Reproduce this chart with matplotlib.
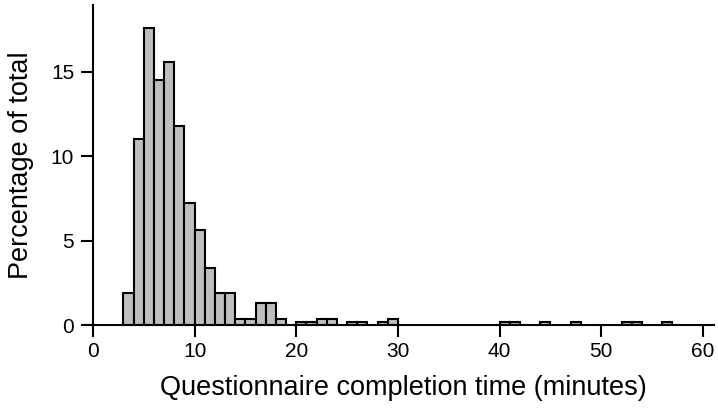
import matplotlib
matplotlib.use('Agg')
import matplotlib.pyplot as plt

# bin left edges (minutes, 1-minute bins) and percentage of total
bin_starts = [3, 4, 5, 6, 7, 8, 9, 10, 11, 12, 13, 14, 15, 16, 17, 18,
              20, 21, 22, 23, 25, 26, 28, 29, 40, 41, 44, 47, 52, 53, 56]
percent = [1.88, 11.0, 17.6, 14.5, 15.6, 11.8, 7.25, 5.6, 3.35, 1.88, 1.88,
           0.38, 0.38, 1.3, 1.3, 0.38,
           0.19, 0.19, 0.38, 0.38, 0.19, 0.19, 0.19, 0.38,
           0.19, 0.19, 0.19, 0.19, 0.19, 0.19, 0.19]
x_ticks = [0, 10, 20, 30, 40, 50, 60]
y_ticks = [0, 5, 10, 15]

plt.rcParams['font.family'] = ['Liberation Sans', 'DejaVu Sans']

fig = plt.figure(figsize=(7.18, 4.12), dpi=100)
ax = fig.add_axes([0.1295, 0.211, 0.865, 0.777])

ax.bar(bin_starts, percent, width=1, align='edge', color='#bebebe',
       edgecolor='black', linewidth=1.5)

ax.set_xlim(0, 61.1)
ax.set_ylim(0, 18.95)
ax.set_xticks(x_ticks)
ax.set_yticks(y_ticks)

for side in ['top', 'right']:
    ax.spines[side].set_visible(False)
for side in ['left', 'bottom']:
    ax.spines[side].set_linewidth(1.5)

ax.tick_params(axis='both', direction='out', length=8.5, width=1.5,
               labelsize=15, color='black', labelcolor='black')
ax.tick_params(axis='x', pad=4)
ax.tick_params(axis='y', pad=5)

ax.set_xlabel('Questionnaire completion time (minutes)', fontsize=19.5, labelpad=10)
ax.set_ylabel('Percentage of total', fontsize=19.5, labelpad=12)

plt.savefig('out.png', dpi=100)
plt.close()
